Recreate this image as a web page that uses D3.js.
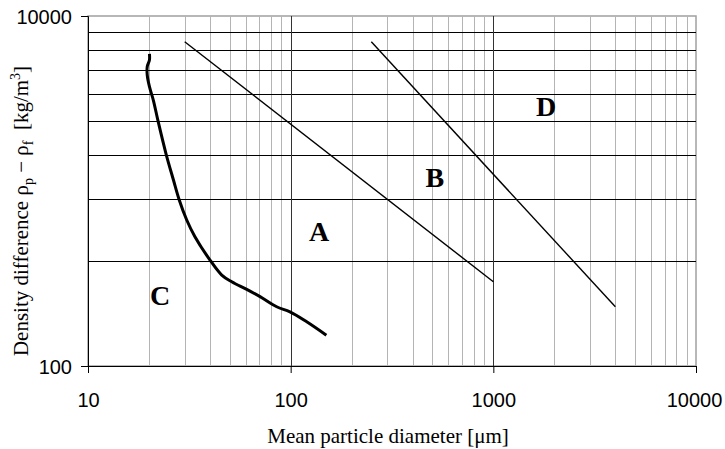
<!DOCTYPE html>
<html>
<head>
<meta charset="utf-8">
<script src="https://cdn.jsdelivr.net/npm/d3@7/dist/d3.min.js"></script>
<style>
body { margin: 0; background: #fff; }
</style>
</head>
<body>
<svg width="725" height="449"></svg>
<script>
// axis ticks
const xTicks = [10, 100, 1000, 10000];
const yTicks = [100, 10000];

// vertical grid (minor grey, major dark)
const xMinorGrid = [20, 30, 40, 50, 60, 70, 80, 90,
                    200, 300, 400, 500, 600, 700, 800, 900,
                    2000, 3000, 4000, 5000, 6000, 7000, 8000, 9000];
const xMajorGrid = [100, 1000];
// horizontal grid lines, drawn on a single decade spanning the plot height
const yGrid = [2000, 3000, 4000, 5000, 6000, 7000, 8000, 9000];

// boundary A/B
const lineB_d = [30, 1000];
const lineB_v = [7130, 303];
// boundary B/D
const lineD_d = [250, 4000];
const lineD_v = [7130, 218];
// boundary C/A
const curveC_d = [20.1, 20.1, 19.6, 19.6, 20.1, 21.0, 22.2, 24.3, 26.4, 28.2, 30.7, 33.7, 40.0,
                  45.7, 51.2, 60.7, 70.6, 85.3, 99.2, 120, 150];
const curveC_v = [6066, 5606, 5132, 4601, 3945, 3311, 2489, 1621, 1156, 889, 683, 548, 403,
                  331, 303, 274, 249, 218, 204, 179, 150];

// group labels
const groupNames = ["A", "B", "C", "D"];
const groupD = [138, 515, 22.7, 1824];
const groupV = [520, 1055, 223, 2694];

// y title pieces: text, size, baseline shift
const yTitleParts = [
    ["Density difference ρ", 21, 0],
    ["p", 14, 5],
    ["\u00a0−\u00a0ρ", 21, 0],
    ["f", 14, 5],
    ["\u00a0\u00a0[kg/m", 21, 0],
    ["3", 14, -8],
    ["]", 21, 0]
];

const svg = d3.select("svg");
const width = +svg.attr("width");
const height = +svg.attr("height");
const margin = {top: 16, right: 29, bottom: 83, left: 88};
const innerWidth = width - margin.left - margin.right;
const innerHeight = height - margin.top - margin.bottom;

const scaleX = d3.scaleLog().domain([10, 10000]).range([0, innerWidth]);
const scaleY = d3.scaleLog().domain([100, 10000]).range([innerHeight, 0]);
const scaleGrid = d3.scaleLog().domain([1000, 10000]).range([innerHeight, 0]);

const g = svg.append("g")
    .attr("transform", `translate(${margin.left}, ${margin.top})`);

// frame
g.append("rect")
    .attr("x", 0).attr("y", 0)
    .attr("width", innerWidth).attr("height", innerHeight)
    .attr("fill", "none")
    .attr("stroke", "#a0a0a0")
    .attr("stroke-width", 1.5);

xMinorGrid.forEach(v => {
    g.append("line")
        .attr("x1", Math.round(scaleX(v)) + 0.5).attr("x2", Math.round(scaleX(v)) + 0.5)
        .attr("y1", 0).attr("y2", innerHeight)
        .attr("stroke", "#b4b4b4")
        .attr("stroke-width", 1);
});

yGrid.forEach(v => {
    g.append("line")
        .attr("x1", 0).attr("x2", innerWidth)
        .attr("y1", Math.round(scaleGrid(v)) + 0.5).attr("y2", Math.round(scaleGrid(v)) + 0.5)
        .attr("stroke", "#000")
        .attr("stroke-width", 1);
});

xMajorGrid.forEach(v => {
    g.append("line")
        .attr("x1", Math.round(scaleX(v)) + 0.5).attr("x2", Math.round(scaleX(v)) + 0.5)
        .attr("y1", 0).attr("y2", innerHeight)
        .attr("stroke", "#333")
        .attr("stroke-width", 1);
});

// axes
const axisX = g.append("g")
    .attr("transform", `translate(0, ${innerHeight})`)
    .call(d3.axisBottom(scaleX).tickValues(xTicks).tickFormat(d3.format("d")).tickSizeOuter(0).tickSize(7).tickPadding(20));
const axisY = g.append("g")
    .call(d3.axisLeft(scaleY).tickValues(yTicks).tickFormat(d3.format("d")).tickSizeOuter(0).tickSize(7).tickPadding(9));

[axisX, axisY].forEach(a => {
    a.select(".domain").attr("stroke", "#000");
    a.selectAll(".tick line").attr("stroke", "#000");
    a.selectAll("text")
        .attr("fill", "#000")
        .style("font-family", "'Liberation Sans', Arial, sans-serif")
        .style("font-size", "20px");
});
axisY.selectAll("text").attr("dy", "0.36em");
axisX.selectAll(".tick").filter(d => d === 10000).select("text").attr("dx", -2);

// boundary lines
const straight = d3.line()
    .x(d => scaleX(d[0]))
    .y(d => scaleY(d[1]));

g.append("path")
    .datum(d3.zip(lineB_d, lineB_v))
    .attr("fill", "none")
    .attr("stroke", "#000")
    .attr("stroke-width", 1.4)
    .attr("d", straight);

g.append("path")
    .datum(d3.zip(lineD_d, lineD_v))
    .attr("fill", "none")
    .attr("stroke", "#000")
    .attr("stroke-width", 1.4)
    .attr("d", straight);

g.append("path")
    .datum(d3.zip(curveC_d, curveC_v))
    .attr("fill", "none")
    .attr("stroke", "#000")
    .attr("stroke-width", 3)
    .attr("stroke-linejoin", "round")
    .attr("d", straight.curve(d3.curveCatmullRom.alpha(0.5)));

// group letters
groupNames.forEach((name, i) => {
    g.append("text")
        .attr("x", scaleX(groupD[i]))
        .attr("y", scaleY(groupV[i]))
        .attr("text-anchor", "middle")
        .style("font-family", "'Liberation Serif', 'Times New Roman', serif")
        .style("font-weight", "bold")
        .style("font-size", "28px")
        .text(name);
});

// axis titles
svg.append("text")
    .attr("x", margin.left + innerWidth / 2 - 4)
    .attr("y", 443)
    .attr("text-anchor", "middle")
    .style("font-family", "'Liberation Serif', 'Times New Roman', serif")
    .style("font-size", "21px")
    .text("Mean particle diameter [μm]");

// y title: pieces laid out horizontally, then turned about a pivot so that
// the baseline lands on x = 28, centred at y = 211
const yTitle = svg.append("g")
    .attr("transform", "rotate(-90, 120, 303)");
const pieces = yTitleParts.map(p => yTitle.append("text")
    .style("font-family", "'Liberation Serif', 'Times New Roman', serif")
    .style("font-size", p[1] + "px")
    .attr("y", 211 + p[2])
    .text(p[0]));
const lengths = pieces.map(t => t.node().getComputedTextLength());
let pos = 212 - d3.sum(lengths) / 2;
pieces.forEach((t, i) => {
    t.attr("x", pos);
    pos += lengths[i];
});
</script>
</body>
</html>
